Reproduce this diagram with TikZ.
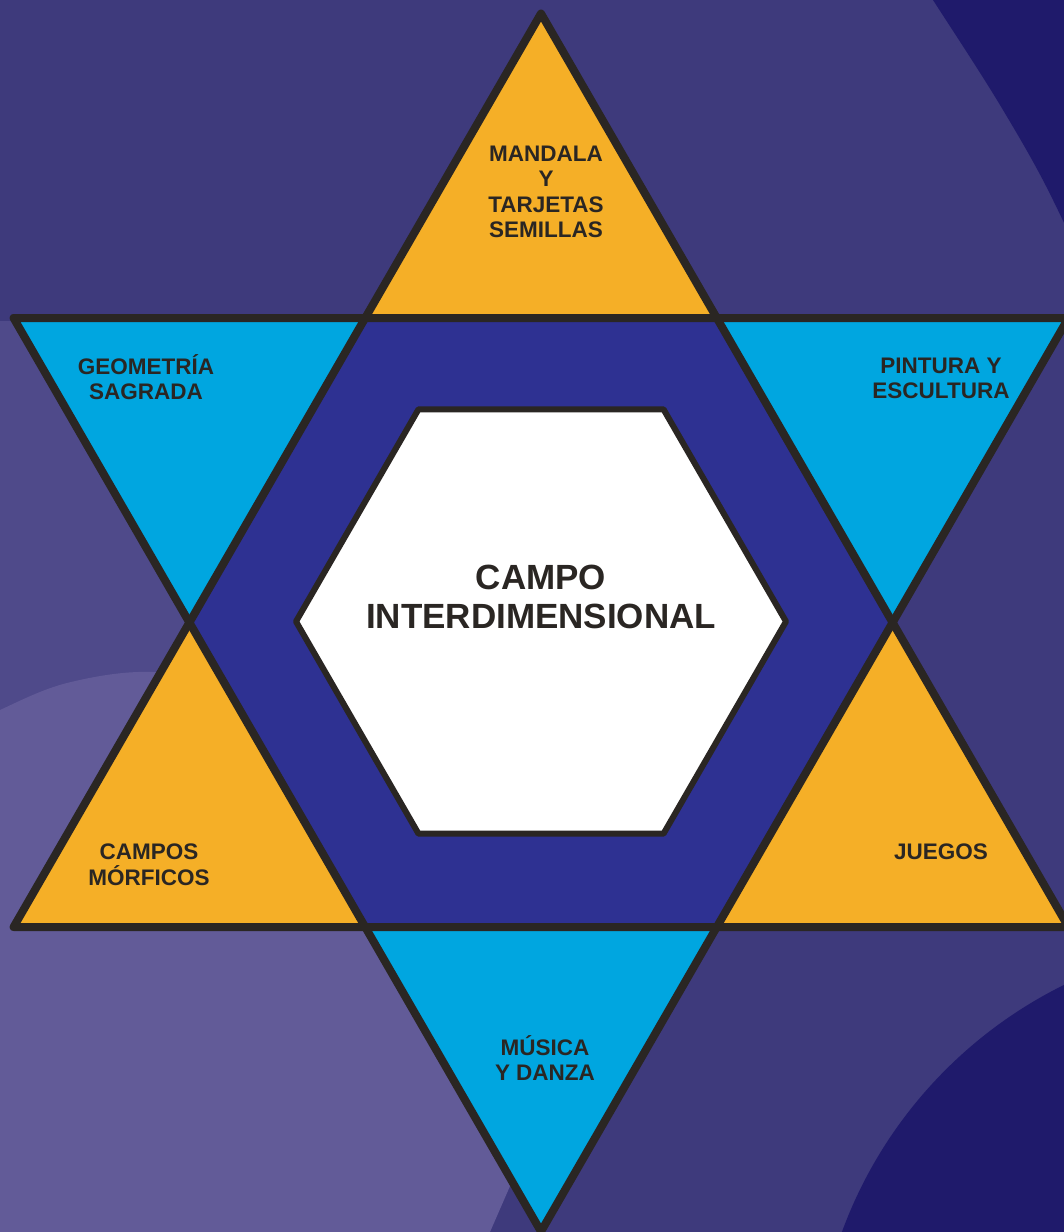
\documentclass[tikz,border=0pt]{standalone}
\usepackage{fontspec}
\setmainfont{Liberation Sans}
\definecolor{bgmid}{HTML}{3E3A7C}
\definecolor{bgdark}{HTML}{1F1A6B}
\definecolor{bglight}{HTML}{4F4A8A}
\definecolor{bglighter}{HTML}{625B98}
\definecolor{hexblue}{HTML}{2E3192}
\definecolor{tipcyan}{HTML}{00A6E0}
\definecolor{tiporange}{HTML}{F5AF27}
\definecolor{inkdark}{HTML}{2A2623}
\tikzset{
  starline/.style={draw=inkdark, line width=8pt, line join=round},
  hexline/.style={draw=inkdark, line width=6pt, line join=round, fill=white},
  smalllabel/.style={text=inkdark, align=center, inner sep=0pt,
    font=\fontsize{22.5}{25.5}\selectfont\bfseries},
  biglabel/.style={text=inkdark, align=center, inner sep=0pt,
    font=\fontsize{35}{39}\selectfont\bfseries}
}
\begin{document}
\begin{tikzpicture}[x=1pt,y=-1pt]
\useasboundingbox (0,0) rectangle (1064,1232);
\clip (0,0) rectangle (1064,1232);
% background
\fill[bgmid] (-10,-10) rectangle (1080,1250);
\fill[bgdark] plot[smooth, tension=0.6] coordinates {(920,-20) (933,0) (1000,105) (1053,200) (1095,300) (1120,420)}
  -- (1200,420) -- (1200,-20) -- cycle;
\fill[bgdark] (1261.2,1385.5) circle[radius=446.4];
\fill[bglight] (-10,321) -- (120,321) -- (200,622) -- (120,927) -- (-10,927) -- cycle;
\fill[bglighter] plot[smooth, tension=0.6] coordinates {(-20,722) (0,710) (67,683) (153,672) (240,690)}
  -- (330,760) -- (470,1000) -- (517,1170) -- (490,1232) -- (480,1260) -- (-20,1260) -- cycle;
% star coordinates
\coordinate (UA) at (541,13.5);
\coordinate (UB) at (1068.4,927);
\coordinate (UC) at (13.6,927);
\coordinate (DD) at (13.6,318);
\coordinate (DE) at (1068.4,318);
\coordinate (DF) at (541,1231.5);
\coordinate (H1) at (365.2,318);
\coordinate (H2) at (716.8,318);
\coordinate (H3) at (892.6,622.5);
\coordinate (H4) at (716.8,927);
\coordinate (H5) at (365.2,927);
\coordinate (H6) at (189.4,622.5);
% fills
\fill[tiporange] (UA) -- (UB) -- (UC) -- cycle;
\fill[tipcyan] (DD) -- (DE) -- (DF) -- cycle;
\fill[hexblue] (H1) -- (H2) -- (H3) -- (H4) -- (H5) -- (H6) -- cycle;
% outlines
\draw[starline] (UA) -- (UB) -- (UC) -- cycle;
\draw[starline] (DD) -- (DE) -- (DF) -- cycle;
% inner hexagon
\coordinate (I1) at (786,621.5);
\coordinate (I2) at (663.5,409.3);
\coordinate (I3) at (418.5,409.3);
\coordinate (I4) at (296,621.5);
\coordinate (I5) at (418.5,833.7);
\coordinate (I6) at (663.5,833.7);
\draw[hexline] (I1) -- (I2) -- (I3) -- (I4) -- (I5) -- (I6) -- cycle;
% labels
\node[smalllabel] (mandala) at (546,192) {MANDALA\\Y\\TARJETAS\\SEMILLAS};
\node[smalllabel] (geometria) at (146,377) {GEOMETRÍA\\SAGRADA};
\node[smalllabel] (pintura) at (941,378.5) {PINTURA Y\\ESCULTURA};
\node[smalllabel] (campos) at (149,864.5) {CAMPOS\\MÓRFICOS};
\node[smalllabel] (juegos) at (941,852) {JUEGOS};
\node[smalllabel] (musica) at (545,1058) {MÚSICA\\Y DANZA};
\node[biglabel] (centro) at (541,596.5) {CAMPO\\INTERDIMENSIONAL};
\end{tikzpicture}
\end{document}
